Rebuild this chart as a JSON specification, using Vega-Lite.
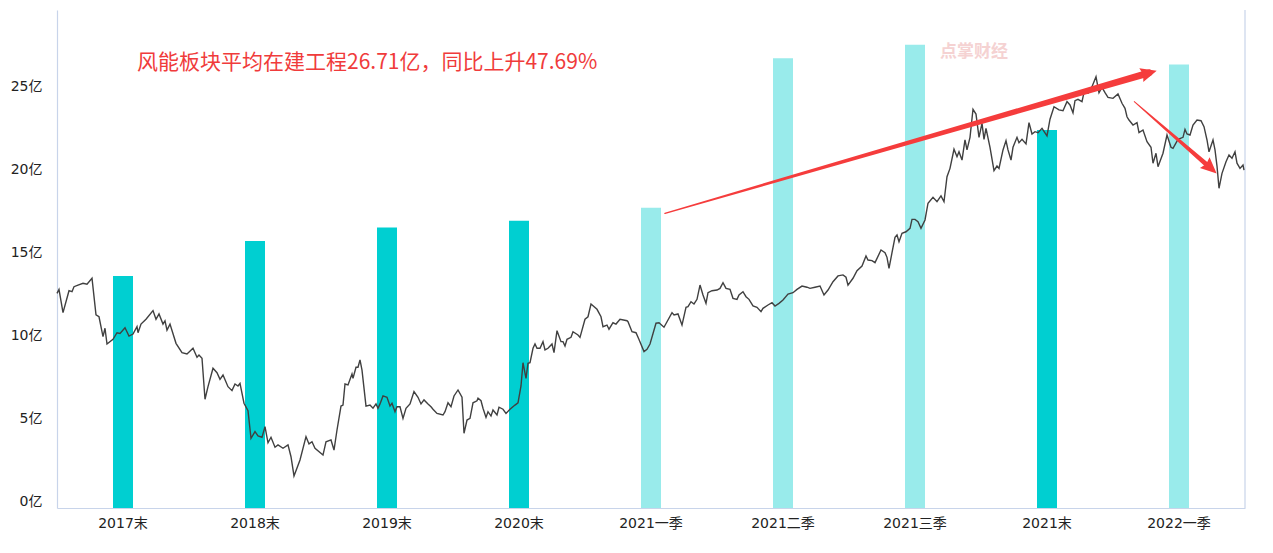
{
  "$schema": "https://vega.github.io/schema/vega-lite/v6.json",
  "width": 1188,
  "height": 498,
  "autosize": {"type": "none"},
  "padding": {"left": 57, "top": 10, "right": 28, "bottom": 45},
  "background": "#ffffff",
  "config": {"view": {"stroke": null}, "font": "Noto Sans CJK SC"},
  "layer": [
    {
      "data": {"values": [{"label": "点掌财经", "t": 883, "v": 27.47}]},
      "mark": {"type": "text", "align": "left", "baseline": "middle", "fontSize": 17, "fontWeight": "bold", "color": "#f5d2d2"},
      "encoding": {
        "x": {"field": "t", "type": "quantitative", "scale": {"domain": [0, 1188], "nice": false, "zero": false}, "axis": null},
        "y": {"field": "v", "type": "quantitative", "scale": {"domain": [0, 30], "nice": false}, "axis": null},
        "text": {"field": "label"}
      }
    },
    {
      "data": {"values": [
        {"period": "2017末", "value": 13.98, "type": "年末"},
        {"period": "2018末", "value": 16.08, "type": "年末"},
        {"period": "2019末", "value": 16.9, "type": "年末"},
        {"period": "2020末", "value": 17.3, "type": "年末"},
        {"period": "2021一季", "value": 18.09, "type": "季度"},
        {"period": "2021二季", "value": 27.1, "type": "季度"},
        {"period": "2021三季", "value": 27.9, "type": "季度"},
        {"period": "2021末", "value": 22.77, "type": "年末"},
        {"period": "2022一季", "value": 26.71, "type": "季度"}
      ]},
      "mark": {"type": "bar", "width": 20},
      "encoding": {
        "x": {"field": "period", "type": "nominal", "sort": null,
          "scale": {"paddingInner": 0, "paddingOuter": 0},
          "axis": {"title": null, "labelAngle": 0, "ticks": false, "tickSize": 0, "labelPadding": 8, "labelFont": "DejaVu Sans, Noto Sans CJK SC", "labelFontSize": 14, "labelColor": "#222222", "domainColor": "#c8d4ea", "domainWidth": 1.2}},
        "y": {"field": "value", "type": "quantitative", "scale": {"domain": [0, 30], "nice": false},
          "axis": {"title": null, "values": [0, 5, 10, 15, 20, 25], "labelExpr": "datum.value + '亿'", "grid": false, "ticks": false, "tickSize": 0, "labelPadding": 15, "labelFont": "DejaVu Sans, Noto Sans CJK SC", "labelFontSize": 14, "labelColor": "#222222", "labelBaseline": "bottom", "domainColor": "#c8d4ea", "domainWidth": 1.2}},
        "color": {"field": "type", "type": "nominal", "scale": {"domain": ["年末", "季度"], "range": ["#00cfd1", "#99ebeb"]}, "legend": null}
      }
    },
    {
      "layer": [
        {
          "data": {"values": [{"t": 1188}]},
          "mark": {"type": "rule", "color": "#c8d4ea", "strokeWidth": 1.2},
          "encoding": {
            "x": {"field": "t", "type": "quantitative", "scale": {"domain": [0, 1188], "nice": false, "zero": false}, "axis": null}
          }
        },
        {
          "data": {"values": [
{"t":0,"v":12.93},{"t":2,"v":13.17},{"t":6,"v":11.77},{"t":12,"v":13.09},{"t":15,"v":13.03},{"t":17,"v":13.33},{"t":21,"v":13.43},{"t":26,"v":13.54},{"t":30,"v":13.48},{"t":35,"v":13.84},
{"t":39,"v":11.63},{"t":42,"v":11.52},{"t":46,"v":10.32},{"t":48,"v":10.83},{"t":50,"v":9.88},{"t":56,"v":10.16},{"t":60,"v":10.56},{"t":63,"v":10.52},{"t":68,"v":10.86},{"t":72,"v":10.36},
{"t":76,"v":10.48},{"t":80,"v":10.92},{"t":81,"v":10.56},{"t":84,"v":11.08},{"t":89,"v":11.37},{"t":96,"v":11.89},{"t":99,"v":11.37},{"t":102,"v":11.69},{"t":106,"v":11.08},{"t":108,"v":11.28},
{"t":110,"v":10.72},{"t":113,"v":11.08},{"t":119,"v":9.92},{"t":125,"v":9.36},{"t":130,"v":9.28},{"t":136,"v":9.62},{"t":140,"v":9.08},{"t":142,"v":9.22},{"t":145,"v":9.02},{"t":148,"v":6.55},
{"t":151,"v":7.31},{"t":156,"v":8.42},{"t":160,"v":8.15},{"t":163,"v":7.75},{"t":166,"v":8.01},{"t":171,"v":7.31},{"t":175,"v":7.07},{"t":178,"v":7.47},{"t":181,"v":7.35},{"t":183,"v":7.51},
{"t":187,"v":6.31},{"t":191,"v":5.86},{"t":194,"v":4.2},{"t":198,"v":4.6},{"t":201,"v":4.34},{"t":205,"v":4.26},{"t":208,"v":4.9},{"t":211,"v":3.93},{"t":214,"v":4.26},{"t":218,"v":3.66},
{"t":221,"v":3.8},{"t":226,"v":3.6},{"t":231,"v":3.8},{"t":234,"v":3.09},{"t":237,"v":1.93},{"t":243,"v":2.89},{"t":249,"v":4.3},{"t":252,"v":3.86},{"t":255,"v":3.99},{"t":258,"v":3.6},
{"t":266,"v":3.19},{"t":269,"v":3.99},{"t":274,"v":4.1},{"t":277,"v":3.49},{"t":280,"v":4.7},{"t":284,"v":6.14},{"t":286,"v":6.2},{"t":288,"v":7.47},{"t":291,"v":7.41},{"t":295,"v":8.07},
{"t":296,"v":7.81},{"t":299,"v":8.48},{"t":301,"v":8.48},{"t":303,"v":8.92},{"t":305,"v":8.31},{"t":309,"v":6.14},{"t":313,"v":6.2},{"t":316,"v":6.01},{"t":319,"v":6.27},{"t":321,"v":6.01},
{"t":323,"v":6.27},{"t":326,"v":6.75},{"t":330,"v":6.67},{"t":333,"v":6.14},{"t":335,"v":6.31},{"t":338,"v":5.8},{"t":340,"v":6.1},{"t":343,"v":6.1},{"t":346,"v":5.4},{"t":349,"v":6.01},
{"t":353,"v":6.27},{"t":357,"v":7.01},{"t":361,"v":6.67},{"t":364,"v":6.27},{"t":367,"v":6.51},{"t":371,"v":6.27},{"t":374,"v":6.1},{"t":376,"v":5.95},{"t":380,"v":5.7},{"t":386,"v":5.6},
{"t":388,"v":5.8},{"t":391,"v":6.34},{"t":394,"v":6.1},{"t":397,"v":6.75},{"t":401,"v":7.11},{"t":405,"v":6.67},{"t":407,"v":4.5},{"t":410,"v":5.3},{"t":413,"v":5.4},{"t":416,"v":6.34},
{"t":420,"v":6.46},{"t":421,"v":6.61},{"t":424,"v":6.46},{"t":426,"v":6.01},{"t":429,"v":5.46},{"t":431,"v":5.8},{"t":434,"v":5.54},{"t":436,"v":5.9},{"t":440,"v":5.6},{"t":442,"v":6.07},
{"t":446,"v":5.95},{"t":449,"v":5.7},{"t":453,"v":5.95},{"t":458,"v":6.2},{"t":461,"v":6.34},{"t":464,"v":7.35},{"t":466,"v":8.75},{"t":469,"v":7.81},{"t":471,"v":8.72},{"t":473,"v":8.75},
{"t":476,"v":9.62},{"t":478,"v":9.88},{"t":480,"v":9.62},{"t":483,"v":9.62},{"t":486,"v":10.02},{"t":488,"v":9.52},{"t":491,"v":9.62},{"t":495,"v":9.88},{"t":497,"v":9.36},{"t":500,"v":10.68},
{"t":504,"v":10.02},{"t":506,"v":10.02},{"t":508,"v":9.76},{"t":510,"v":10.16},{"t":514,"v":10.28},{"t":516,"v":10.62},{"t":521,"v":10.42},{"t":523,"v":10.28},{"t":528,"v":11.37},{"t":531,"v":11.52},
{"t":534,"v":12.29},{"t":540,"v":11.97},{"t":544,"v":11.52},{"t":546,"v":10.92},{"t":550,"v":11.02},{"t":552,"v":10.77},{"t":556,"v":11.16},{"t":559,"v":11.08},{"t":563,"v":11.37},{"t":570,"v":11.28},
{"t":571,"v":11.22},{"t":575,"v":10.62},{"t":579,"v":10.56},{"t":582,"v":10.15},{"t":587,"v":9.42},{"t":590,"v":9.56},{"t":593,"v":9.88},{"t":599,"v":11.13},{"t":602,"v":11.16},{"t":607,"v":10.89},
{"t":615,"v":11.77},{"t":617,"v":11.63},{"t":621,"v":11.69},{"t":625,"v":11.02},{"t":629,"v":12.09},{"t":631,"v":12.13},{"t":634,"v":12.43},{"t":637,"v":12.29},{"t":640,"v":12.57},{"t":643,"v":13.43},
{"t":646,"v":12.83},{"t":649,"v":12.33},{"t":651,"v":12.97},{"t":655,"v":13.09},{"t":660,"v":13.13},{"t":663,"v":13.23},{"t":666,"v":13.57},{"t":669,"v":13.23},{"t":673,"v":13.17},{"t":676,"v":12.63},
{"t":680,"v":12.57},{"t":682,"v":12.83},{"t":686,"v":13.03},{"t":689,"v":12.73},{"t":692,"v":12.57},{"t":696,"v":12.17},{"t":700,"v":12.09},{"t":704,"v":11.83},{"t":706,"v":12.03},{"t":711,"v":12.23},
{"t":715,"v":12.37},{"t":718,"v":12.17},{"t":722,"v":12.33},{"t":726,"v":12.53},{"t":731,"v":12.89},{"t":736,"v":12.97},{"t":740,"v":13.17},{"t":745,"v":13.37},{"t":750,"v":13.3},{"t":753,"v":13.23},
{"t":758,"v":13.3},{"t":763,"v":13.37},{"t":767,"v":12.83},{"t":771,"v":13.13},{"t":776,"v":13.63},{"t":781,"v":13.98},{"t":786,"v":14.04},{"t":789,"v":13.9},{"t":791,"v":13.43},{"t":796,"v":13.84},
{"t":800,"v":14.3},{"t":805,"v":14.58},{"t":809,"v":15.18},{"t":811,"v":14.94},{"t":815,"v":14.9},{"t":818,"v":14.78},{"t":824,"v":15.54},{"t":828,"v":15.38},{"t":830,"v":15.1},{"t":832,"v":14.44},
{"t":835,"v":15.38},{"t":838,"v":16.31},{"t":840,"v":16.45},{"t":842,"v":16.04},{"t":845,"v":16.55},{"t":849,"v":16.64},{"t":853,"v":16.85},{"t":855,"v":17.39},{"t":858,"v":17.39},{"t":861,"v":17.25},
{"t":864,"v":16.85},{"t":868,"v":17.35},{"t":871,"v":18.36},{"t":876,"v":18.72},{"t":880,"v":18.45},{"t":884,"v":18.8},{"t":887,"v":18.45},{"t":890,"v":19.96},{"t":893,"v":20.46},{"t":897,"v":21.61},
{"t":900,"v":21.16},{"t":902,"v":21.46},{"t":905,"v":20.96},{"t":908,"v":22.17},{"t":910,"v":21.57},{"t":913,"v":22.33},{"t":916,"v":24.02},{"t":919,"v":23.73},{"t":922,"v":22.33},{"t":925,"v":23.17},
{"t":927,"v":22.21},{"t":929,"v":22.87},{"t":933,"v":21.73},{"t":937,"v":20.32},{"t":940,"v":20.6},{"t":942,"v":20.46},{"t":946,"v":21.57},{"t":949,"v":22.13},{"t":951,"v":21.57},{"t":954,"v":20.96},
{"t":956,"v":21.73},{"t":960,"v":22.33},{"t":962,"v":22.01},{"t":965,"v":22.21},{"t":969,"v":21.93},{"t":972,"v":23.21},{"t":975,"v":22.53},{"t":978,"v":22.67},{"t":981,"v":22.61},{"t":985,"v":22.87},
{"t":990,"v":22.41},{"t":993,"v":23.42},{"t":997,"v":24.17},{"t":1002,"v":23.98},{"t":1006,"v":23.93},{"t":1010,"v":24.48},{"t":1013,"v":24.28},{"t":1016,"v":23.81},{"t":1018,"v":24.54},{"t":1021,"v":24.62},
{"t":1025,"v":24.48},{"t":1027,"v":25.02},{"t":1031,"v":24.98},{"t":1035,"v":25.38},{"t":1039,"v":25.98},{"t":1042,"v":25.02},{"t":1045,"v":25.34},{"t":1048,"v":25.02},{"t":1051,"v":24.74},{"t":1056,"v":24.68},
{"t":1061,"v":24.94},{"t":1065,"v":24.38},{"t":1068,"v":24.08},{"t":1070,"v":23.57},{"t":1072,"v":23.37},{"t":1076,"v":23.07},{"t":1080,"v":23.21},{"t":1082,"v":22.61},{"t":1086,"v":22.77},{"t":1090,"v":22.07},
{"t":1094,"v":21.73},{"t":1096,"v":20.77},{"t":1099,"v":21.37},{"t":1101,"v":20.56},{"t":1106,"v":21.37},{"t":1110,"v":22.47},{"t":1114,"v":21.73},{"t":1116,"v":21.67},{"t":1121,"v":22.21},{"t":1126,"v":22.33},
{"t":1128,"v":22.81},{"t":1130,"v":22.53},{"t":1133,"v":22.47},{"t":1136,"v":23.07},{"t":1140,"v":23.37},{"t":1144,"v":23.33},{"t":1147,"v":22.97},{"t":1150,"v":22.17},{"t":1152,"v":21.46},{"t":1156,"v":22.17},
{"t":1158,"v":21.57},{"t":1160,"v":20.6},{"t":1162,"v":19.26},{"t":1165,"v":20.16},{"t":1169,"v":20.86},{"t":1172,"v":21.27},{"t":1175,"v":21.07},{"t":1178,"v":21.46},{"t":1180,"v":20.77},{"t":1183,"v":20.46},
{"t":1186,"v":20.66},{"t":1187,"v":20.36}
          ]},
          "mark": {"type": "line", "color": "#404040", "strokeWidth": 1.4},
          "encoding": {
            "x": {"field": "t", "type": "quantitative", "scale": {"domain": [0, 1188], "nice": false, "zero": false}, "axis": null},
            "y": {"field": "v", "type": "quantitative", "scale": {"domain": [0, 30], "nice": false}, "axis": null}
          }
        },
        {
          "data": {"values": [{"t": 608, "v": 17.75, "pos": 0}, {"t": 1092, "v": 26.21, "pos": 1}]},
          "mark": {"type": "trail", "color": "#f53c3c"},
          "encoding": {
            "x": {"field": "t", "type": "quantitative", "scale": {"domain": [0, 1188], "nice": false, "zero": false}, "axis": null},
            "y": {"field": "v", "type": "quantitative", "scale": {"domain": [0, 30], "nice": false}, "axis": null},
            "size": {"field": "pos", "type": "quantitative", "scale": {"domain": [0, 1], "range": [1.5, 7]}, "legend": null}
          }
        },
        {
          "data": {"values": [{"t": 1077.3, "v": 24.48, "pos2": 0}, {"t": 1153.7, "v": 20.48, "pos2": 1}]},
          "mark": {"type": "trail", "color": "#f53c3c"},
          "encoding": {
            "x": {"field": "t", "type": "quantitative", "scale": {"domain": [0, 1188], "nice": false, "zero": false}, "axis": null},
            "y": {"field": "v", "type": "quantitative", "scale": {"domain": [0, 30], "nice": false}, "axis": null},
            "size": {"field": "pos2", "type": "quantitative", "scale": {"domain": [0, 1], "range": [1, 5]}, "legend": null}
          }
        },
        {
          "data": {"values": [{"t": 1092, "v": 26.21}]},
          "mark": {"type": "point", "shape": "M 1 0 L -1 -0.9 L -0.75 0 L -1 0.9 Z", "size": 256, "angle": 344, "filled": true, "color": "#f53c3c", "opacity": 1},
          "encoding": {
            "x": {"field": "t", "type": "quantitative", "scale": {"domain": [0, 1188], "nice": false, "zero": false}, "axis": null},
            "y": {"field": "v", "type": "quantitative", "scale": {"domain": [0, 30], "nice": false}, "axis": null}
          }
        },
        {
          "data": {"values": [{"t": 1153.7, "v": 20.48}]},
          "mark": {"type": "point", "shape": "M 1 0 L -1 -0.9 L -0.75 0 L -1 0.9 Z", "size": 256, "angle": 42, "filled": true, "color": "#f53c3c", "opacity": 1},
          "encoding": {
            "x": {"field": "t", "type": "quantitative", "scale": {"domain": [0, 1188], "nice": false, "zero": false}, "axis": null},
            "y": {"field": "v", "type": "quantitative", "scale": {"domain": [0, 30], "nice": false}, "axis": null}
          }
        },
        {
          "data": {"values": [{"label": "风能板块平均在建工程26.71亿，同比上升47.69%", "t": 80, "v": 26.8}]},
          "mark": {"type": "text", "align": "left", "baseline": "middle", "fontSize": 21, "color": "#f03b3b"},
          "encoding": {
            "x": {"field": "t", "type": "quantitative", "scale": {"domain": [0, 1188], "nice": false, "zero": false}, "axis": null},
            "y": {"field": "v", "type": "quantitative", "scale": {"domain": [0, 30], "nice": false}, "axis": null},
            "text": {"field": "label"}
          }
        }
      ],
      "resolve": {"scale": {"size": "independent"}}
    }
  ],
  "resolve": {"scale": {"x": "independent"}, "axis": {"y": "independent"}}
}
